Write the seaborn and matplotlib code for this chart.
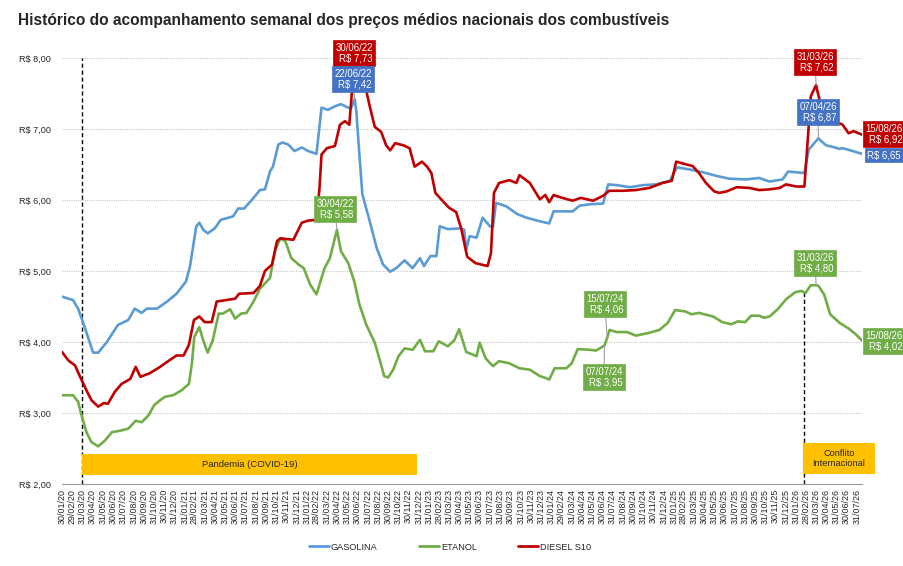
import matplotlib
matplotlib.use("Agg")
import matplotlib.pyplot as plt
import matplotlib.dates as mdates
from matplotlib.ticker import FuncFormatter
from matplotlib.patches import Rectangle
from matplotlib.lines import Line2D
import seaborn as sns
import pandas as pd

# ---------------- data ----------------
gas_dates = ["2020-01-30", "2020-03-03", "2020-03-18", "2020-04-03", "2020-05-02", "2020-05-17",
             "2020-06-12", "2020-07-15", "2020-08-15", "2020-09-03", "2020-09-24", "2020-10-09",
             "2020-11-09", "2020-12-09", "2021-01-06", "2021-02-03", "2021-02-15", "2021-03-06",
             "2021-03-15", "2021-03-27", "2021-04-09", "2021-04-30", "2021-05-18", "2021-06-24",
             "2021-07-09", "2021-07-27", "2021-08-24", "2021-09-12", "2021-09-27", "2021-10-12",
             "2021-10-21", "2021-11-06", "2021-11-18", "2021-12-06", "2021-12-24", "2022-01-15",
             "2022-02-03", "2022-02-28", "2022-03-15", "2022-04-03", "2022-04-24", "2022-05-12",
             "2022-06-03", "2022-06-12", "2022-06-22", "2022-06-27", "2022-07-06", "2022-07-15",
             "2022-08-06", "2022-08-27", "2022-09-15", "2022-10-06", "2022-10-24", "2022-11-18",
             "2022-12-12", "2023-01-03", "2023-01-15", "2023-02-03", "2023-02-21", "2023-03-03",
             "2023-03-27", "2023-05-06", "2023-05-15", "2023-05-21", "2023-05-31", "2023-06-21",
             "2023-07-09", "2023-07-31", "2023-08-09", "2023-08-18", "2023-09-18", "2023-10-21",
             "2023-11-18", "2023-12-27", "2024-01-24", "2024-02-06", "2024-03-03", "2024-04-03",
             "2024-04-24", "2024-05-24", "2024-07-03", "2024-07-18", "2024-08-12", "2024-09-21",
             "2024-10-31", "2024-12-09", "2025-01-18", "2025-02-09", "2025-03-18", "2025-04-27",
             "2025-06-06", "2025-07-15", "2025-09-03", "2025-10-12", "2025-11-12", "2025-12-21",
             "2026-01-06", "2026-01-31", "2026-02-24", "2026-03-09", "2026-04-07", "2026-04-15",
             "2026-04-30", "2026-05-18", "2026-06-09", "2026-06-18", "2026-07-18", "2026-08-15"]
gas_vals = [4.64, 4.59, 4.47, 4.26, 3.85, 3.85,
            4.00, 4.24, 4.31, 4.47, 4.41, 4.47,
            4.47, 4.57, 4.68, 4.85, 5.06, 5.63,
            5.68, 5.58, 5.53, 5.60, 5.72, 5.77,
            5.88, 5.88, 6.03, 6.14, 6.15, 6.40,
            6.47, 6.78, 6.81, 6.78, 6.69, 6.74,
            6.69, 6.65, 7.30, 7.27, 7.32, 7.35,
            7.30, 7.30, 7.42, 7.25, 6.64, 6.08,
            5.70, 5.32, 5.09, 4.99, 5.04, 5.15,
            5.04, 5.18, 5.07, 5.21, 5.21, 5.63,
            5.59, 5.60, 5.58, 5.30, 5.49, 5.47,
            5.75, 5.63, 5.62, 5.96, 5.91, 5.80,
            5.75, 5.70, 5.67, 5.84, 5.84, 5.84,
            5.92, 5.94, 5.95, 6.22, 6.21, 6.18,
            6.21, 6.22, 6.27, 6.46, 6.43, 6.39,
            6.34, 6.30, 6.29, 6.31, 6.26, 6.29,
            6.40, 6.39, 6.38, 6.71, 6.87, 6.83,
            6.77, 6.75, 6.72, 6.73, 6.69, 6.65]

eta_dates = ["2020-01-30", "2020-03-03", "2020-03-18", "2020-03-27", "2020-04-12", "2020-04-27",
             "2020-05-17", "2020-06-06", "2020-06-27", "2020-07-21", "2020-08-15", "2020-09-06",
             "2020-09-24", "2020-10-15", "2020-10-31", "2020-11-18", "2020-12-03", "2020-12-27",
             "2021-01-21", "2021-02-12", "2021-02-21", "2021-02-28", "2021-03-15", "2021-03-27",
             "2021-04-09", "2021-04-24", "2021-05-12", "2021-05-24", "2021-06-15", "2021-06-30",
             "2021-07-18", "2021-08-03", "2021-08-24", "2021-09-12", "2021-10-12", "2021-10-27",
             "2021-11-12", "2021-11-27", "2021-12-15", "2022-01-06", "2022-01-21", "2022-02-09",
             "2022-02-28", "2022-03-09", "2022-03-24", "2022-04-09", "2022-04-30", "2022-05-12",
             "2022-06-03", "2022-06-21", "2022-07-06", "2022-07-27", "2022-08-21", "2022-09-06",
             "2022-09-18", "2022-09-30", "2022-10-15", "2022-10-31", "2022-11-18", "2022-12-12",
             "2023-01-03", "2023-01-18", "2023-02-12", "2023-02-28", "2023-03-27", "2023-04-15",
             "2023-04-30", "2023-05-21", "2023-06-21", "2023-06-30", "2023-07-18", "2023-08-09",
             "2023-08-27", "2023-09-27", "2023-10-27", "2023-11-27", "2023-12-27", "2024-01-15",
             "2024-01-24", "2024-02-09", "2024-03-15", "2024-03-31", "2024-04-18", "2024-05-24",
             "2024-06-12", "2024-07-07", "2024-07-15", "2024-07-22", "2024-08-12", "2024-09-12",
             "2024-10-09", "2024-11-18", "2024-12-18", "2025-01-12", "2025-02-03", "2025-03-06",
             "2025-03-24", "2025-04-15", "2025-05-27", "2025-06-24", "2025-07-21", "2025-08-09",
             "2025-08-31", "2025-09-18", "2025-10-12", "2025-10-27", "2025-11-12", "2025-12-06",
             "2025-12-31", "2026-01-27", "2026-02-15", "2026-02-27", "2026-03-15", "2026-03-31",
             "2026-04-07", "2026-04-24", "2026-05-12", "2026-06-09", "2026-07-06", "2026-07-27",
             "2026-08-15"]
eta_vals = [3.25, 3.25, 3.16, 2.99, 2.73, 2.59,
            2.53, 2.61, 2.73, 2.75, 2.78, 2.89,
            2.87, 2.97, 3.11, 3.18, 3.23, 3.25,
            3.32, 3.41, 3.70, 4.07, 4.21, 4.02,
            3.85, 4.02, 4.40, 4.40, 4.46, 4.33,
            4.40, 4.41, 4.57, 4.75, 4.90, 5.28,
            5.46, 5.42, 5.18, 5.09, 5.04, 4.81,
            4.67, 4.81, 5.04, 5.18, 5.58, 5.28,
            5.11, 4.85, 4.53, 4.24, 3.99, 3.73,
            3.52, 3.50, 3.61, 3.80, 3.91, 3.89,
            4.03, 3.87, 3.87, 4.01, 3.94, 4.02,
            4.18, 3.86, 3.80, 3.99, 3.77, 3.66,
            3.73, 3.70, 3.63, 3.61, 3.52, 3.49,
            3.47, 3.63, 3.63, 3.70, 3.90, 3.89,
            3.88, 3.95, 4.06, 4.17, 4.14, 4.14,
            4.09, 4.13, 4.17, 4.27, 4.45, 4.43,
            4.39, 4.41, 4.36, 4.28, 4.25, 4.29,
            4.28, 4.37, 4.37, 4.34, 4.36, 4.46,
            4.60, 4.70, 4.72, 4.69, 4.80, 4.80,
            4.79, 4.67, 4.39, 4.27, 4.19, 4.11,
            4.02]

die_dates = ["2020-01-30", "2020-02-18", "2020-03-09", "2020-03-24", "2020-04-12", "2020-04-27",
             "2020-05-17", "2020-06-03", "2020-06-15", "2020-07-06", "2020-07-26", "2020-08-21",
             "2020-09-06", "2020-09-20", "2020-10-18", "2020-11-18", "2020-12-09", "2021-01-06",
             "2021-01-27", "2021-02-12", "2021-02-27", "2021-03-15", "2021-03-31", "2021-04-21",
             "2021-05-06", "2021-06-03", "2021-06-30", "2021-07-12", "2021-08-24", "2021-09-12",
             "2021-09-27", "2021-10-18", "2021-11-02", "2021-11-12", "2021-12-21", "2022-01-15",
             "2022-02-03", "2022-02-28", "2022-03-09", "2022-03-15", "2022-03-31", "2022-04-24",
             "2022-05-09", "2022-05-24", "2022-06-06", "2022-06-15", "2022-06-30", "2022-07-15",
             "2022-07-27", "2022-08-06", "2022-08-21", "2022-09-09", "2022-09-24", "2022-10-06",
             "2022-10-21", "2022-11-15", "2022-12-03", "2022-12-18", "2023-01-09", "2023-01-24",
             "2023-02-06", "2023-02-18", "2023-03-09", "2023-03-31", "2023-04-21", "2023-05-06",
             "2023-05-24", "2023-06-18", "2023-07-24", "2023-08-03", "2023-08-12", "2023-08-27",
             "2023-09-27", "2023-10-18", "2023-10-27", "2023-11-27", "2023-12-27", "2024-01-12",
             "2024-01-24", "2024-02-06", "2024-03-03", "2024-04-03", "2024-04-27", "2024-06-03",
             "2024-07-03", "2024-07-21", "2024-08-31", "2024-10-09", "2024-11-18", "2024-12-27",
             "2025-01-24", "2025-02-06", "2025-03-09", "2025-03-27", "2025-04-15", "2025-05-06",
             "2025-05-31", "2025-06-15", "2025-07-06", "2025-08-06", "2025-09-12", "2025-10-12",
             "2025-11-12", "2025-12-12", "2025-12-31", "2026-01-31", "2026-02-24", "2026-03-06",
             "2026-03-15", "2026-03-31", "2026-04-03", "2026-04-15", "2026-04-27", "2026-05-27",
             "2026-06-18", "2026-07-06", "2026-07-21", "2026-08-15"]
die_vals = [3.86, 3.74, 3.67, 3.51, 3.32, 3.18,
            3.09, 3.14, 3.13, 3.30, 3.41, 3.48,
            3.65, 3.51, 3.56, 3.65, 3.72, 3.81,
            3.81, 3.96, 4.31, 4.36, 4.28, 4.28,
            4.57, 4.59, 4.61, 4.68, 4.69, 4.79,
            5.00, 5.09, 5.42, 5.46, 5.44, 5.68,
            5.71, 5.72, 6.17, 6.64, 6.73, 6.76,
            7.06, 7.11, 7.06, 7.60, 7.73, 7.65,
            7.53, 7.32, 7.03, 6.96, 6.77, 6.70,
            6.80, 6.77, 6.73, 6.47, 6.54, 6.47,
            6.38, 6.10, 6.00, 5.89, 5.83, 5.60,
            5.20, 5.11, 5.07, 5.25, 6.10, 6.24,
            6.28, 6.24, 6.35, 6.24, 6.01, 6.07,
            5.97, 6.07, 6.03, 5.99, 6.03, 5.99,
            6.06, 6.13, 6.13, 6.14, 6.17, 6.24,
            6.27, 6.54, 6.50, 6.48, 6.38, 6.24,
            6.12, 6.10, 6.12, 6.18, 6.17, 6.14,
            6.15, 6.17, 6.22, 6.19, 6.19, 6.85,
            7.46, 7.62, 7.55, 7.32, 7.13, 7.11,
            7.06, 6.94, 6.97, 6.92]

series_names = ["GASOLINA", "ETANOL", "DIESEL S10"]
series_colors = ["#5B9BD5", "#70AD47", "#C00000"]
label_colors = {"GASOLINA": "#4472C4", "ETANOL": "#70AD47", "DIESEL S10": "#C00000"}

# highlighted points: (series, date, value)
highlights = [
    ("DIESEL S10", "2022-06-30", 7.73),
    ("GASOLINA", "2022-06-22", 7.42),
    ("ETANOL", "2022-04-30", 5.58),
    ("ETANOL", "2024-07-15", 4.06),
    ("ETANOL", "2024-07-07", 3.95),
    ("DIESEL S10", "2026-03-31", 7.62),
    ("GASOLINA", "2026-04-07", 6.87),
    ("ETANOL", "2026-03-31", 4.80),
]
end_labels = [("DIESEL S10", "15/08/26\nR$ 6,92", 6.92), ("GASOLINA", "R$ 6,65", 6.65),
              ("ETANOL", "15/08/26\nR$ 4,02", 4.02)]

# ---------------- style ----------------
sns.set_theme(style="white")
plt.rcParams["font.family"] = ["Liberation Sans", "DejaVu Sans"]

frames = []
for name, d, v in [("GASOLINA", gas_dates, gas_vals), ("ETANOL", eta_dates, eta_vals),
                   ("DIESEL S10", die_dates, die_vals)]:
    frames.append(pd.DataFrame({"data": pd.to_datetime(d), "preco": v, "combustivel": name}))
df = pd.concat(frames, ignore_index=True)
palette = dict(zip(series_names, series_colors))

fig = plt.figure(figsize=(9.04, 5.66), dpi=100)
W, H = 904, 566
ax = fig.add_axes([62 / W, 1 - 484 / H, (862 - 62) / W, (484 - 58) / H])

sns.lineplot(data=df, x="data", y="preco", hue="combustivel", hue_order=series_names,
             palette=palette, linewidth=1.9, estimator=None, legend=False, ax=ax, zorder=3)
for ln in ax.lines:
    ln.set_solid_joinstyle("round")

x0, x1 = pd.Timestamp("2020-01-30"), pd.Timestamp("2026-08-15")
ax.set_xlim(x0, x1)
ax.set_ylim(2, 8)
ax.set_xlabel("")
ax.set_ylabel("")

ticks = list(pd.date_range("2020-01-31", "2026-07-31", freq="ME"))
ticks[0] = pd.Timestamp("2020-01-30")
ax.set_xticks(ticks)
ax.set_xticklabels([t.strftime("%d/%m/%y") for t in ticks], rotation=90, fontsize=6.4)
ax.tick_params(axis="x", direction="inout", length=5, width=0.7, color="#7f7f7f", pad=1)
ax.set_yticks([2, 3, 4, 5, 6, 7, 8])
ax.yaxis.set_major_formatter(FuncFormatter(lambda v, p: ("R$ %.2f" % v).replace(".", ",")))
ax.tick_params(axis="y", length=0, labelsize=6.6, pad=8)

for s in ["top", "right", "left"]:
    ax.spines[s].set_visible(False)
ax.spines["bottom"].set_color("#9a9a9a")
ax.spines["bottom"].set_linewidth(0.8)
for yv in [3, 4, 5, 6, 7, 8]:
    ax.axhline(yv, color="#c8c8c8", lw=0.8, ls=(0, (1, 1)), zorder=1)

# event lines
ax.plot([pd.Timestamp("2020-03-31")] * 2, [2, 8], color="black", lw=1, ls=(0, (3, 2)), zorder=2)
ax.plot([pd.Timestamp("2026-02-22")] * 2, [2, 4.70], color="black", lw=1, ls=(0, (3, 2)), zorder=2)

# event boxes
xa = mdates.date2num(pd.Timestamp("2020-03-31"))
xb = mdates.date2num(pd.Timestamp("2022-12-24"))
ax.add_patch(Rectangle((xa, 2.13), xb - xa, 0.29, facecolor="#FFC000", edgecolor="none", zorder=2))
ax.text((xa + xb) / 2, 2.275, "Pandemia (COVID-19)", ha="center", va="center", fontsize=6.8, zorder=4)

tr = ax.get_yaxis_transform()
ax.add_patch(Rectangle(((803 - 62) / 800, 2.14), 72 / 800, 0.44, transform=tr,
                       facecolor="#FFC000", edgecolor="none", clip_on=False, zorder=2))
ax.text((839 - 62) / 800, 2.36, "Conflito\nInternacional", transform=tr, ha="center",
        va="center", fontsize=6.6, zorder=4, clip_on=False)

# highlight labels (box centres in pixel coords of the figure)
box_px = [(354, 53), (353, 79), (335, 209), (605, 304), (604, 377), (815, 62), (818, 112), (815, 263)]
for (name, d, v), (px, py) in zip(highlights, box_px):
    col = label_colors[name]
    txt = pd.Timestamp(d).strftime("%d/%m/%y") + "\n" + ("R$ %.2f" % v).replace(".", ",")
    ax.annotate(txt, xy=(pd.Timestamp(d), v), xycoords="data",
                xytext=((px - 62) / 800, (484 - py) / 426), textcoords="axes fraction",
                ha="center", va="center", multialignment="right", fontsize=6.9, color="white",
                linespacing=1.05,
                bbox=dict(boxstyle="square,pad=0.25", fc=col, ec=col, lw=0.5),
                arrowprops=dict(arrowstyle="-", color="#a0a0a0", lw=0.8, shrinkA=0, shrinkB=0),
                annotation_clip=False, zorder=6)

end_px = [134, 155, 341]
for (name, txt, v), py in zip(end_labels, end_px):
    col = label_colors[name]
    ax.text((884 - 62) / 800, (484 - py) / 426, txt, transform=ax.transAxes, ha="center", va="center",
            multialignment="right", fontsize=6.9, color="white", linespacing=1.05,
            bbox=dict(boxstyle="square,pad=0.25", fc=col, ec=col, lw=0.5), clip_on=False, zorder=6)

# title
fig.text(18 / W, 1 - 21 / H, "Histórico do acompanhamento semanal dos preços médios nacionais dos combustíveis",
         fontsize=11.2, fontweight="bold", ha="left", va="center")

# legend
handles = [Line2D([0], [0], color=c, lw=2) for c in series_colors]
fig.legend(handles, series_names, loc="center", bbox_to_anchor=(450 / W, 1 - 547 / H), ncol=3,
           frameon=False, fontsize=6.6, handlelength=2.2, handletextpad=0.2, columnspacing=4.5)

fig.savefig("out.png", dpi=100)
